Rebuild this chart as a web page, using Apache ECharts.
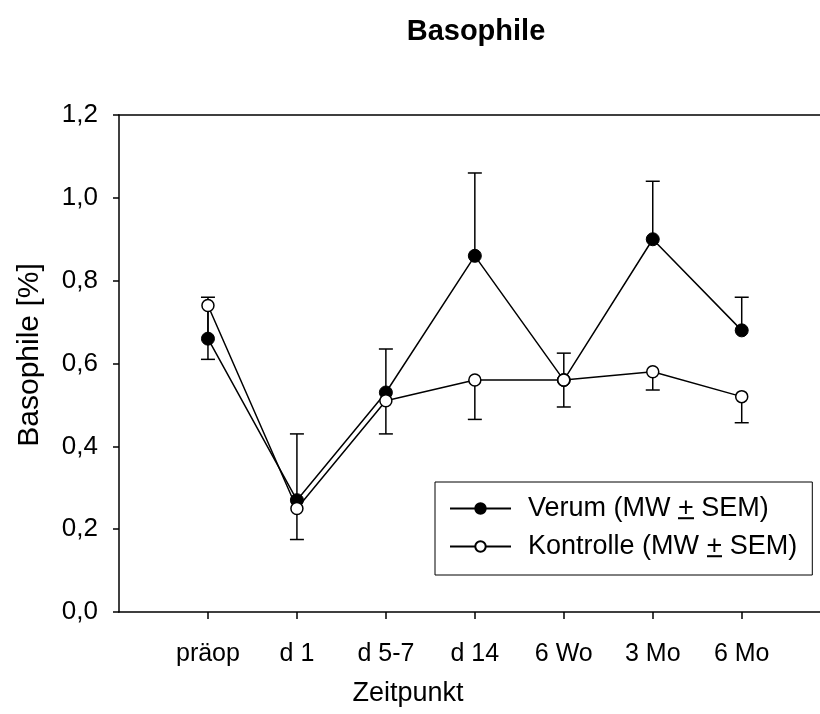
<!DOCTYPE html>
<html>
<head>
<meta charset="utf-8">
<script src="https://cdn.jsdelivr.net/npm/echarts@6/dist/echarts.min.js"></script>
<style>html,body{margin:0;padding:0;background:#fff;}#c{width:820px;height:714px;}</style>
</head>
<body>
<div id="c"></div>
<script>
const categories = ['präop', 'd 1', 'd 5-7', 'd 14', '6 Wo', '3 Mo', '6 Mo'];
const verum = [0.66, 0.27, 0.53, 0.86, 0.56, 0.90, 0.68];
const verumSem = [0.10, 0.16, 0.105, 0.20, 0.065, 0.14, 0.08];
const kontrolle = [0.74, 0.25, 0.51, 0.56, 0.56, 0.58, 0.52];
const kontrolleSem = [0.13, 0.075, 0.08, 0.095, 0.065, 0.044, 0.063];
const seriesNames = ['Verum (MW + SEM)', 'Kontrolle (MW + SEM)'];

const FONT = 'Liberation Sans';
const xPos = categories.map((c, i) => i + 1);
const X_MAX = 7.88; // axis continues past the right edge of the picture

// underline image for the "+" in the legend
const ul = document.createElement('canvas');
ul.width = 8; ul.height = 40;
const ctx = ul.getContext('2d');
ctx.fillStyle = '#000';
ctx.fillRect(0, 33, 8, 3);

function errRender(params, api) {
  const x = api.value(0), y0 = api.value(1), y1 = api.value(2);
  const p0 = api.coord([x, y0]), p1 = api.coord([x, y1]);
  const st = { stroke: '#000', lineWidth: 1.5 };
  return {
    type: 'group',
    children: [
      { type: 'line', shape: { x1: p0[0], y1: p0[1], x2: p1[0], y2: p1[1] }, style: st },
      { type: 'line', shape: { x1: p1[0] - 7, y1: p1[1], x2: p1[0] + 7, y2: p1[1] }, style: st }
    ]
  };
}

const chart = echarts.init(document.getElementById('c'), null, { renderer: 'canvas' });
chart.setOption({
  animation: false,
  backgroundColor: '#fff',
  textStyle: { fontFamily: FONT, color: '#000' },
  title: {
    text: 'Basophile', left: 471, top: 12, textAlign: 'center',
    textStyle: { fontFamily: FONT, fontWeight: 'bold', fontSize: 29, color: '#000' }
  },
  grid: { left: 119, top: 115, right: 0, height: 497, containLabel: false },
  legend: {
    orient: 'vertical', left: 435, top: 482,
    padding: [13, 15, 15, 14], itemGap: 11,
    itemWidth: 61, itemHeight: 13,
    borderColor: '#000', borderWidth: 1,
    data: seriesNames,
    formatter: n => '{t|' + n.replace(' + ', ' }{u|+}{t| ') + '}',
    textStyle: {
      fontFamily: FONT, fontSize: 27, color: '#000', padding: [0, 0, 0, 12],
      rich: {
        t: { fontFamily: FONT, fontSize: 27, color: '#000', lineHeight: 27 },
        u: { fontFamily: FONT, fontSize: 27, color: '#000', lineHeight: 27, backgroundColor: { image: ul } }
      }
    }
  },
  xAxis: [{
    type: 'value', min: 0, max: X_MAX,
    axisLine: { show: true, lineStyle: { color: '#000', width: 1.5 } },
    axisTick: { show: true, length: 7, lineStyle: { color: '#000', width: 1.5 }, customValues: xPos },
    axisLabel: { customValues: xPos, formatter: v => categories[v - 1] || '', fontSize: 25, color: '#000', fontFamily: FONT, margin: 30 },
    splitLine: { show: false }
  }, {
    type: 'value', min: 0, max: X_MAX, position: 'top',
    axisLine: { show: true, lineStyle: { color: '#000', width: 1.5 } },
    axisTick: { show: false }, axisLabel: { show: false }, splitLine: { show: false }
  }],
  yAxis: {
    type: 'value', min: 0, max: 1.2, interval: 0.2,
    axisLine: { show: true, lineStyle: { color: '#000', width: 1.5 } },
    axisTick: { show: true, length: 6, lineStyle: { color: '#000', width: 1.5 } },
    axisLabel: { formatter: v => v.toFixed(1).replace('.', ','), fontSize: 26, color: '#000', fontFamily: FONT, margin: 21 },
    splitLine: { show: false }
  },
  graphic: [
    { type: 'text', x: 408, y: 694, style: { text: 'Zeitpunkt', font: '27px "Liberation Sans"', fill: '#000', textAlign: 'center', textVerticalAlign: 'middle' } },
    { type: 'text', x: 30, y: 355, rotation: Math.PI / 2, style: { text: 'Basophile [%]', font: '30px "Liberation Sans"', fill: '#000', textAlign: 'center', textVerticalAlign: 'middle' } }
  ],
  series: [
    {
      type: 'custom', name: 'errV', renderItem: errRender, z: 1, silent: true,
      data: verum.map((v, i) => [xPos[i], v, v + verumSem[i]])
    },
    {
      type: 'custom', name: 'errK', renderItem: errRender, z: 1, silent: true,
      data: kontrolle.map((v, i) => [xPos[i], v, v - kontrolleSem[i]])
    },
    {
      name: seriesNames[0], type: 'line', z: 3,
      data: verum.map((v, i) => [xPos[i], v]),
      symbol: 'circle', symbolSize: 13,
      lineStyle: { color: '#000', width: 1.5 },
      itemStyle: { color: '#000', borderColor: '#000', borderWidth: 1 }
    },
    {
      name: seriesNames[1], type: 'line', z: 4,
      data: kontrolle.map((v, i) => [xPos[i], v]),
      symbol: 'circle', symbolSize: 12,
      lineStyle: { color: '#000', width: 1.5 },
      itemStyle: { color: '#fff', borderColor: '#000', borderWidth: 1.5 }
    }
  ]
});
</script>
</body>
</html>
